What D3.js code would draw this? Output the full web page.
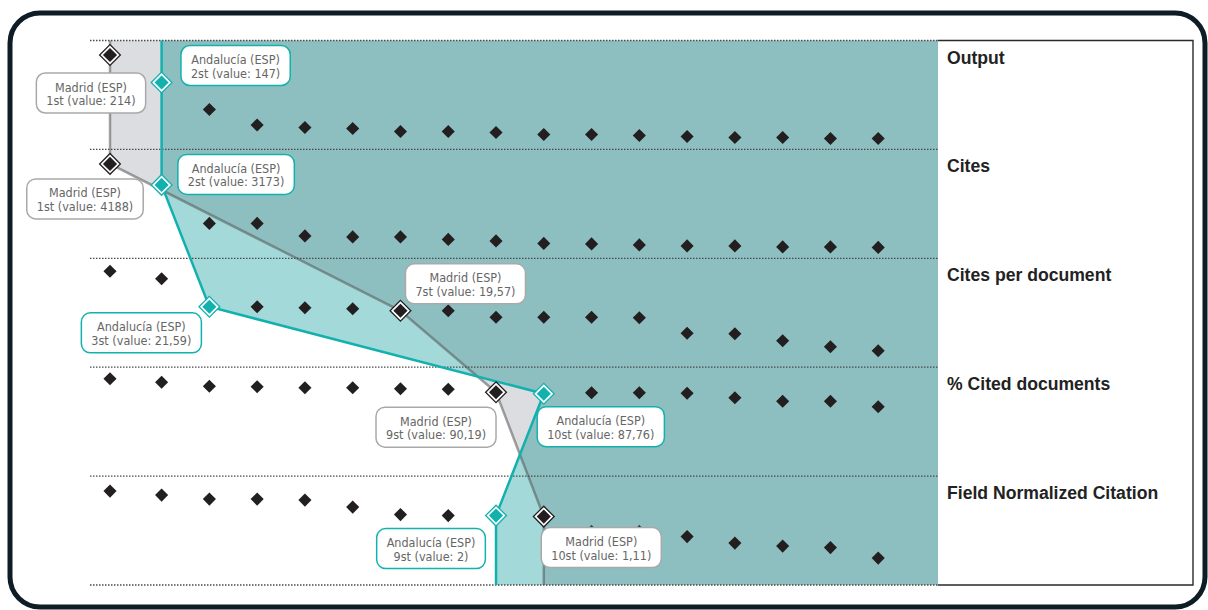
<!DOCTYPE html>
<html><head><meta charset="utf-8">
<script src="https://cdn.jsdelivr.net/npm/d3@7"></script>
<style>body{margin:0;background:#fff}svg{display:block}</style>
</head><body><svg id="c" width="1208" height="610"></svg>
<script>
// ---------- data ----------
const metrics = ["Output", "Cites", "Cites per document", "% Cited documents", "Field Normalized Citation"];
const ranks = d3.range(1, 18);
// relative position index (0-100) of each ranked region inside its metric band
const outputIndex   = [89.5, 62, 35, 19.5, 17, 16, 13, 13, 12, 10, 10, 9, 8, 7, 7, 6, 6];
const citesIndex    = [89.5, 68.5, 30, 30, 17.5, 16.5, 16.5, 14, 12.5, 10, 9.5, 8.5, 7.5, 7.5, 6.5, 6.5, 6];
const cpdIndex      = [91, 83.5, 55.5, 55.5, 54.5, 53.5, 51.5, 51.5, 45, 45, 45, 44.5, 29, 28.5, 21.5, 15.5, 11.5];
const citedIndex    = [92.5, 89, 85, 84.5, 83.5, 83.5, 82.5, 82, 79, 77.5, 78.5, 78.5, 78, 73.5, 70, 70, 64.5];
const fncIndex      = [89, 85, 81, 81, 80, 73, 65.5, 64.5, 64.5, 63.5, 48.5, 48.5, 43.5, 37, 34, 32.5, 22];
const rowIndex = [outputIndex, citesIndex, cpdIndex, citedIndex, fncIndex];

const madridName = "Madrid (ESP)";
const madridRank = [1, 1, 7, 9, 10];
const madridValue = ["214", "4188", "19,57", "90,19", "1,11"];
const andaluciaName = "Andalucía (ESP)";
const andaluciaRank = [2, 2, 3, 10, 9];
const andaluciaValue = ["147", "3173", "21,59", "87,76", "2"];

// ---------- layout ----------
const plotLeft = 90, plotRight = 938, plotTop = 40.5, plotBottom = 585, boxRight = 1193;
const svg = d3.select("#c");

const x = d3.scaleLinear().domain([1, 2, 17]).range([110, 161.6, 878.2]);
const row = d3.scaleBand().domain(metrics).range([plotTop, plotBottom]);
const yIn = d3.scaleLinear().domain([0, 100]).range([104, 4]);
const yOf = (mi, r) => row(metrics[mi]) + yIn(rowIndex[mi][r - 1]);

const C = {
  grey: "#dcdde0", light: "#a3d9d9", dark: "#8ebfc0",
  teal: "#13b1ae", madLine: "#555", ink: "#231f20"
};

// outer frame
svg.append("rect").attr("x", 10).attr("y", 13).attr("width", 1195).attr("height", 594)
  .attr("rx", 30).attr("fill", "#fff").attr("stroke", "#0e1c26").attr("stroke-width", 5);

function entityPts(rk) {
  const pts = [[x(rk[0]), plotTop]];
  rk.forEach((r, i) => pts.push([x(r), yOf(i, r)]));
  pts.push([x(rk[rk.length - 1]), plotBottom]);
  return pts;
}
const madPts = entityPts(madridRank);
const andPts = entityPts(andaluciaRank);
const regionOf = pts => pts.concat([[plotRight, plotBottom], [plotRight, plotTop]]);
const line = d3.line();

const defs = svg.append("defs");
defs.append("clipPath").attr("id", "andClip").append("path").attr("d", line(regionOf(andPts)) + "Z");

svg.append("path").attr("d", line(regionOf(madPts)) + "Z").attr("fill", C.grey);
svg.append("path").attr("d", line(regionOf(andPts)) + "Z").attr("fill", C.light);
svg.append("path").attr("d", line(regionOf(madPts)) + "Z").attr("fill", C.dark).attr("clip-path", "url(#andClip)");

// dotted band separators
const sepYs = metrics.map(m => row(m)).concat([plotBottom]);
svg.selectAll("line.sep").data(sepYs).join("line").attr("class", "sep")
  .attr("x1", plotLeft).attr("x2", plotRight).attr("y1", d => d).attr("y2", d => d)
  .attr("stroke", "#4a4a4a").attr("stroke-width", 1.3).attr("stroke-dasharray", "1.5,1.5");

// legend box (top, right, bottom)
svg.append("path")
  .attr("d", `M${plotRight},${plotTop}H${boxRight}V${plotBottom}H${plotRight}`)
  .attr("fill", "none").attr("stroke", "#2a2a2a").attr("stroke-width", 1.4);
svg.selectAll("text.metric").data(metrics).join("text").attr("class", "metric")
  .attr("x", plotRight + 9).attr("y", d => row(d) + 23)
  .attr("font-family", "Liberation Sans, Arial, sans-serif").attr("font-weight", "bold")
  .attr("font-size", 17.6).attr("fill", "#222").text(d => d);

// entity lines
svg.append("path").attr("d", line(madPts)).attr("fill", "none")
  .attr("stroke", C.madLine).attr("stroke-opacity", 0.55).attr("stroke-width", 2.5);
svg.append("path").attr("d", line(andPts)).attr("fill", "none")
  .attr("stroke", C.teal).attr("stroke-width", 2.5);

// regular diamonds
const sq = d3.symbol().type(d3.symbolSquare);
metrics.forEach((m, mi) => {
  const pts = ranks.filter(r => r !== madridRank[mi] && r !== andaluciaRank[mi]);
  svg.selectAll(null).data(pts).join("path")
    .attr("d", sq.size(86)())
    .attr("transform", r => `translate(${x(r)},${yOf(mi, r)}) rotate(45)`)
    .attr("fill", C.ink);
});

// highlighted diamonds
function hi(rk, color) {
  rk.forEach((r, mi) => {
    const g = svg.append("g").attr("transform", `translate(${x(r)},${yOf(mi, r)}) rotate(45)`);
    g.append("path").attr("d", sq.size(215)()).attr("fill", "#fff").attr("stroke", color).attr("stroke-width", 1.3);
    g.append("path").attr("d", sq.size(100)()).attr("fill", color);
  });
}
hi(madridRank, C.ink);
hi(andaluciaRank, C.teal);

// labels
const madOff = [[-19, 38], [-25, 35], [65, -27], [-60, 35], [57.5, 31]];
const andOff = [[74, -17], [74.5, -10.5], [-68, 26], [57, 33], [-65, 33]];
function labels(name, rk, vals, offs, stroke) {
  rk.forEach((r, mi) => {
    const cx = x(r) + offs[mi][0], cy = yOf(mi, r) + offs[mi][1];
    const g = svg.append("g");
    const box = g.append("rect");
    const lines = [name, `${r}st (value: ${vals[mi]})`];
    const t = g.selectAll("text").data(lines).join("text")
      .attr("x", cx).attr("y", (d, i) => cy - 1.5 + i * 13.5)
      .attr("text-anchor", "middle")
      .attr("font-family", "DejaVu Sans Condensed, DejaVu Sans, sans-serif")
      .attr("font-size", 12.5).attr("fill", "#666").text(d => d);
    const w = d3.max(t.nodes(), n => n.getComputedTextLength()) + 20;
    box.attr("x", cx - w / 2).attr("y", cy - 20).attr("width", w).attr("height", 40)
      .attr("rx", 9).attr("fill", "#fff").attr("stroke", stroke).attr("stroke-width", 1.5);
  });
}
labels(madridName, madridRank, madridValue, madOff, "#a9a9a9");
labels(andaluciaName, andaluciaRank, andaluciaValue, andOff, C.teal);
</script></body></html>
